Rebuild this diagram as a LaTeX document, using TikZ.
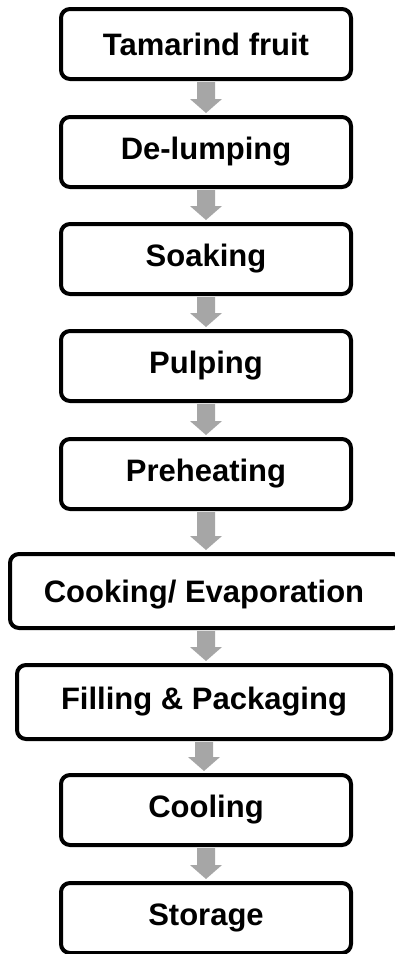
\documentclass[tikz,border=0pt]{standalone}
\usepackage{fontspec}
\setmainfont{Liberation Sans}
\usetikzlibrary{calc}
\definecolor{arrowgray}{HTML}{A6A6A6}
\tikzset{
  stepbox/.style={draw=black, line width=4pt, rounded corners=9pt, fill=white,
    minimum width=290pt, minimum height=70pt, inner sep=0pt, outer sep=0pt,
    font=\fontsize{31}{36}\selectfont\bfseries, text=black},
}
\newcommand{\flowarrow}[2]{%
  \fill[arrowgray] ($(#1.south)+(-9,3)$) -- ($(#1.south)+(9,3)$)
    -- ($(#2.north -| #1.south)+(9,-18)$) -- ($(#2.north -| #1.south)+(16,-18)$)
    -- ($(#2.north -| #1.south)+(0,-4)$) -- ($(#2.north -| #1.south)+(-16,-18)$)
    -- ($(#2.north -| #1.south)+(-9,-18)$) -- cycle;}
\begin{document}
\begin{tikzpicture}[x=1pt,y=-1pt]
\useasboundingbox (0,0) rectangle (394,954);
\node[stepbox] (n1) at (206,44) {Tamarind fruit};
\node[stepbox] (n2) at (206,152) {De-lumping};
\node[stepbox] (n3) at (206,259) {Soaking};
\node[stepbox] (n4) at (206,366) {Pulping};
\node[stepbox] (n5) at (206,474) {Preheating};
\node[stepbox, minimum width=392pt, minimum height=74pt, text depth=0pt] (n6) at (206,591) {\hspace*{-4pt}Cooking/ Evaporation};
\node[stepbox, minimum width=374pt, minimum height=74pt] (n7) at (204,702) {Filling \& Packaging};
\node[stepbox] (n8) at (206,810) {Cooling};
\node[stepbox] (n9) at (206,918) {Storage};
\flowarrow{n1}{n2}
\flowarrow{n2}{n3}
\flowarrow{n3}{n4}
\flowarrow{n4}{n5}
\flowarrow{n5}{n6}
\flowarrow{n6}{n7}
\flowarrow{n7}{n8}
\flowarrow{n8}{n9}
\end{tikzpicture}
\end{document}
